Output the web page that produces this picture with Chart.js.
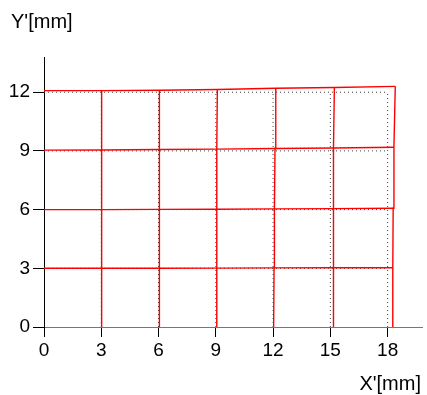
<!DOCTYPE html>
<html>
<head>
<meta charset="utf-8">
<script src="https://cdn.jsdelivr.net/npm/chart.js@4.4.0/dist/chart.umd.min.js"></script>
<style>
  html, body { margin: 0; padding: 0; background: #fff; }
  #wrap { width: 427px; height: 395px; }
</style>
</head>
<body>
<div id="wrap"><canvas id="grid" width="427" height="395"></canvas></div>
<script>
/* ===== data ===== */
const xTicks = [0, 3, 6, 9, 12, 15, 18];
const yTicks = [0, 3, 6, 9, 12];

// measured (distorted) node positions, one row per nominal Y (0,3,6,9,12)
const nodeX = [
  [0, 3.02, 6.03, 9.03, 12.03, 15.14, 18.26],
  [0, 3.02, 6.03, 9.04, 12.05, 15.15, 18.27],
  [0, 3.02, 6.04, 9.05, 12.07, 15.16, 18.29],
  [0, 3.02, 6.05, 9.06, 12.10, 15.18, 18.33],
  [0, 3.02, 6.06, 9.08, 12.14, 15.21, 18.40]
];
const nodeY = [
  [0, 0, 0, 0, 0, 0, 0],
  [3.00, 3.00, 3.00, 3.01, 3.02, 3.03, 3.03],
  [6.00, 6.00, 6.01, 6.02, 6.04, 6.05, 6.07],
  [9.04, 9.05, 9.07, 9.09, 9.12, 9.15, 9.19],
  [12.08, 12.08, 12.10, 12.14, 12.20, 12.24, 12.30]
];

/* ===== datasets ===== */
const datasets = [];

// ideal grid, dotted (drawn underneath)
yTicks.slice(1).forEach(y => {
  datasets.push({
    data: [{ x: xTicks[0], y: y }, { x: xTicks[xTicks.length - 1], y: y }],
    borderColor: '#444', borderWidth: 1, borderDash: [1, 3], order: 1
  });
});
xTicks.slice(1).forEach(x => {
  datasets.push({
    data: [{ x: x, y: yTicks[0] }, { x: x, y: yTicks[yTicks.length - 1] }],
    borderColor: '#444', borderWidth: 1, borderDash: [1, 3], order: 1
  });
});

// measured grid, red on top
for (let r = 1; r < nodeX.length; r++) {
  datasets.push({
    data: nodeX[r].map((x, c) => ({ x: x, y: nodeY[r][c] })),
    borderColor: '#ff0000', borderWidth: 1.4, order: 0
  });
}
for (let c = 1; c < xTicks.length; c++) {
  datasets.push({
    data: nodeX.map((row, r) => ({ x: row[c], y: nodeY[r][c] })),
    borderColor: '#ff0000', borderWidth: 1.4, order: 0
  });
}

datasets.forEach(d => {
  d.showLine = true;
  d.pointRadius = 0;
  d.fill = false;
  d.tension = 0;
});

/* ===== axis titles ===== */
const axisTitles = {
  id: 'axisTitles',
  afterDraw(chart) {
    const ctx = chart.ctx;
    ctx.save();
    ctx.fillStyle = '#000';
    ctx.font = '20px "Liberation Sans", Arial, sans-serif';
    ctx.textBaseline = 'alphabetic';
    ctx.textAlign = 'left';
    ctx.fillText("Y'[mm]", 11, 28);
    ctx.textAlign = 'right';
    ctx.fillText("X'[mm]", 421, 390);
    ctx.restore();
  }
};

const tickFont = { family: '"Liberation Sans", Arial, sans-serif', size: 19 };

new Chart(document.getElementById('grid').getContext('2d'), {
  type: 'scatter',
  data: { datasets: datasets },
  plugins: [axisTitles],
  options: {
    responsive: false,
    animation: false,
    layout: { padding: { top: 57, right: 5, left: 0, bottom: 0 } },
    plugins: { legend: { display: false }, tooltip: { enabled: false } },
    scales: {
      x: {
        type: 'linear', min: 0, max: 19.8,
        afterBuildTicks: s => { s.ticks = xTicks.map(v => ({ value: v })); },
        afterFit: s => { s.height = 68; },
        grid: { drawOnChartArea: false, drawTicks: true, tickLength: 10, color: '#000' },
        border: { display: true, color: '#777', width: 1 },
        ticks: { color: '#000', font: tickFont, padding: 2, maxRotation: 0 }
      },
      y: {
        type: 'linear', min: 0, max: 13.8,
        afterBuildTicks: s => { s.ticks = yTicks.map(v => ({ value: v })); },
        afterFit: s => { s.width = 44; },
        grid: { drawOnChartArea: false, drawTicks: true, tickLength: 11, color: '#000' },
        border: { display: true, color: '#000', width: 1 },
        ticks: { color: '#000', font: tickFont, padding: 3 }
      }
    }
  }
});
</script>
</body>
</html>
